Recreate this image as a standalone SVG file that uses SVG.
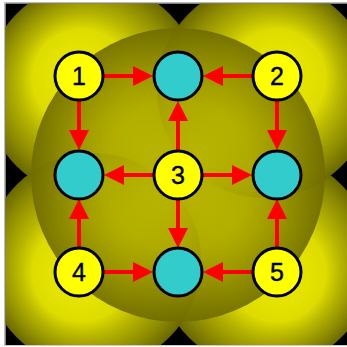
<svg xmlns="http://www.w3.org/2000/svg" width="347" height="347" viewBox="0 0 347 347">
<defs>
<radialGradient id="q">
<stop offset="0" stop-color="#eaea00"/>
<stop offset="0.45" stop-color="#dedc00"/>
<stop offset="0.62" stop-color="#b8b600"/>
<stop offset="0.85" stop-color="#8c8a00"/>
<stop offset="1" stop-color="#6a6800"/>
</radialGradient>
<radialGradient id="qtl" href="#q" cx="0.5" cy="0.5" r="0.5" fx="0.4" fy="0.4"/>
<radialGradient id="qtr" href="#q" cx="0.5" cy="0.5" r="0.5" fx="0.6" fy="0.4"/>
<radialGradient id="qbl" href="#q" cx="0.5" cy="0.5" r="0.5" fx="0.4" fy="0.6"/>
<radialGradient id="qbr" href="#q" cx="0.5" cy="0.5" r="0.5" fx="0.6" fy="0.6"/>
<radialGradient id="c" cx="0.5" cy="0.5" r="0.5">
<stop offset="0" stop-color="#ccc800" stop-opacity="0.82"/>
<stop offset="0.5" stop-color="#b0ac00" stop-opacity="0.84"/>
<stop offset="1" stop-color="#706c00" stop-opacity="0.9"/>
</radialGradient>
<clipPath id="clip"><rect x="5.5" y="3.5" width="341.5" height="342"/></clipPath>
<marker id="ah" viewBox="0 0 20 20" markerWidth="20" markerHeight="20" refX="10" refY="10" orient="auto" markerUnits="userSpaceOnUse">
<path d="M0,0 L20,10 L0,20 z" fill="#ff0000"/>
</marker>
</defs>
<style>
.conn line{stroke:#ff0000;stroke-width:4;marker-end:url(#ah)}
.y{fill:#ffff00;stroke:#000;stroke-width:3}
.cy{fill:#33cccc;stroke:#000;stroke-width:3}
text{font-family:"Liberation Sans",Arial,sans-serif;font-size:25px;fill:#000;stroke:#000;stroke-width:0.4;text-anchor:middle}
</style>
<rect x="0" y="0" width="347" height="347" fill="#fff"/>
<g clip-path="url(#clip)">
<rect x="0" y="0" width="347" height="347" fill="#000"/>
<circle fill="url(#qtl)" cx="93" cy="90" r="108"/>
<circle fill="url(#qbr)" cx="265" cy="261" r="108"/>
<circle fill="url(#qbl)" cx="93" cy="261" r="108"/>
<circle fill="url(#qtr)" cx="265" cy="90" r="108"/>
<circle cx="178" cy="175" r="147" fill="url(#c)"/>
</g>
<line x1="4.5" y1="2.5" x2="347" y2="2.5" stroke="#bbb" stroke-width="1"/>
<line x1="4.5" y1="2.5" x2="4.5" y2="346" stroke="#bbb" stroke-width="1"/>
<line x1="4.5" y1="345.5" x2="347" y2="345.5" stroke="#ccc" stroke-width="1"/>
<g class="conn">
<line x1="103" y1="76" x2="143" y2="76"/>
<line x1="253" y1="76" x2="213" y2="76"/>
<line x1="79" y1="100" x2="79" y2="140"/>
<line x1="277" y1="100" x2="277" y2="140"/>
<line x1="178" y1="151" x2="178" y2="111"/>
<line x1="154" y1="175" x2="114" y2="175"/>
<line x1="202" y1="175" x2="242" y2="175"/>
<line x1="178" y1="199" x2="178" y2="238"/>
<line x1="79" y1="248" x2="79" y2="209"/>
<line x1="277" y1="248" x2="277" y2="209"/>
<line x1="103" y1="272" x2="143" y2="272"/>
<line x1="253" y1="272" x2="213" y2="272"/>
</g>
<g id="t"><circle class="cy" cx="178" cy="76" r="24"/></g>
<g id="l"><circle class="cy" cx="79" cy="175" r="24"/></g>
<g id="r"><circle class="cy" cx="277" cy="175" r="24"/></g>
<g id="b"><circle class="cy" cx="178" cy="272" r="24"/></g>
<g id="n1"><circle class="y" cx="79" cy="76" r="24"/><text x="79" y="85">1</text></g>
<g id="n2"><circle class="y" cx="277" cy="76" r="24"/><text x="277" y="85">2</text></g>
<g id="n3"><circle class="y" cx="178" cy="175" r="24"/><text x="178" y="184">3</text></g>
<g id="n4"><circle class="y" cx="79" cy="272" r="24"/><text x="79" y="281">4</text></g>
<g id="n5"><circle class="y" cx="277" cy="272" r="24"/><text x="277" y="281">5</text></g>
</svg>
